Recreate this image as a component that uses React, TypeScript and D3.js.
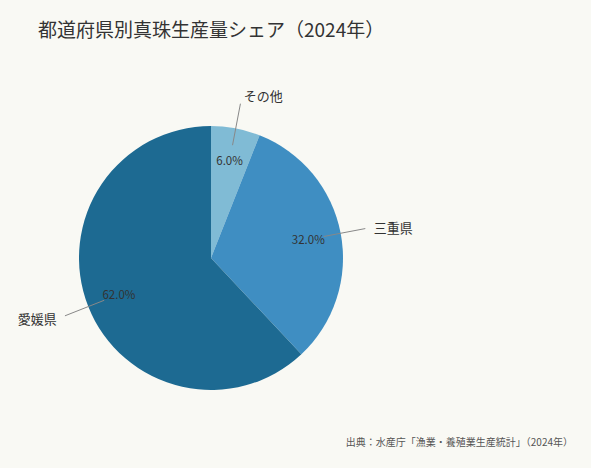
import React from "react";
import * as d3 from "d3";

const categories = ["その他", "三重県", "愛媛県"];
const shares = [6.0, 32.0, 62.0];
const colors = ["#80bbd5", "#3f8ec2", "#1d6a92"];
const title = "都道府県別真珠生産量シェア（2024年）";
const source = "出典：水産庁「漁業・養殖業生産統計」（2024年）";

const W = 591;
const H = 468;

export default function App() {
  const cx = 211;
  const cy = 258;
  const r = 132;
  const pie = d3.pie<number>().sort(null).value((d) => d)(shares);
  const arc = d3.arc<d3.PieArcDatum<number>>().innerRadius(0).outerRadius(r);
  const font = "'Noto Sans CJK JP', 'Noto Sans', sans-serif";
  const pt = (a: number, rr: number) => [Math.sin(a) * rr, -Math.cos(a) * rr];
  return (
    <svg width={W} height={H} style={{ position: "absolute", left: 0, top: 0, background: "#f9f9f4" }} fontFamily={font}>
      <rect width={W} height={H} fill="#f9f9f4" />
      <text x={38} y={37} fontSize={19} fill="#333">{title}</text>
      <g transform={`translate(${cx},${cy})`}>
        {pie.map((p, i) => (
          <path key={i} d={arc(p) || ""} fill={colors[i]} />
        ))}
        {pie.map((p, i) => {
          const mid = (p.startAngle + p.endAngle) / 2;
          const [lx, ly] = pt(mid, r * 0.75);
          const [ax, ay] = pt(mid, r * 0.87);
          const [bx, by] = pt(mid, r * 1.19);
          const [tx, ty] = pt(mid, r * 1.24);
          const right = Math.sin(mid) >= 0;
          const top = Math.abs(Math.sin(mid)) < 0.5;
          return (
            <g key={"l" + i}>
              <line x1={ax} y1={ay} x2={bx} y2={by} stroke="#888" strokeWidth={1} />
              <text x={lx} y={ly + 1.5} fontSize={11.5} fill="#333" textAnchor="middle" dominantBaseline="middle">
                {shares[i].toFixed(1)}%
              </text>
              <text x={tx + (right ? 2 : -2)} y={ty + (top ? 0 : 2)} fontSize={13} fill="#333"
                textAnchor={top ? "start" : right ? "start" : "end"} dominantBaseline="middle">
                {categories[i]}
              </text>
            </g>
          );
        })}
      </g>
      <text x={573} y={443} fontSize={10} fill="#555" textAnchor="end" dominantBaseline="middle">{source}</text>
    </svg>
  );
}
